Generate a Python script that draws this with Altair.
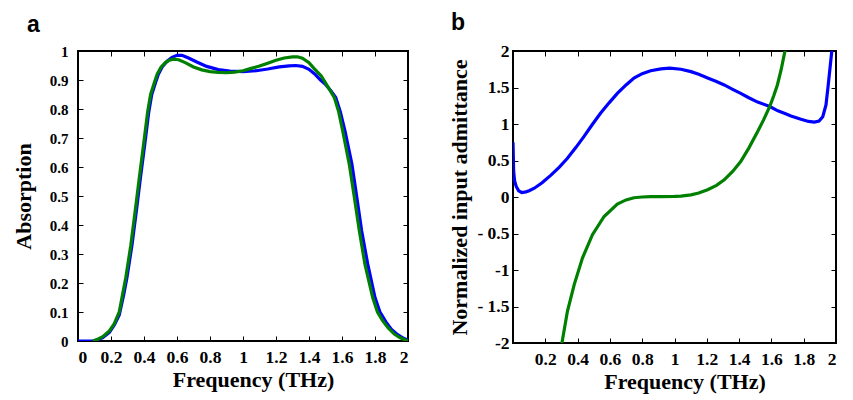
import altair as alt
import pandas as pd

# ---------------- Panel a: absorption ----------------
circuit_f = [0.0, 0.05, 0.09, 0.12, 0.15, 0.19, 0.22, 0.25, 0.277, 0.297, 0.327, 0.354,
             0.379, 0.405, 0.429, 0.447, 0.469, 0.487, 0.51, 0.54, 0.57, 0.60, 0.63, 0.67,
             0.72, 0.78, 0.85, 0.92, 1.00, 1.08, 1.15, 1.22, 1.28, 1.32, 1.36, 1.40, 1.44,
             1.47, 1.50, 1.53, 1.562, 1.59, 1.618, 1.66, 1.69, 1.719, 1.756, 1.80, 1.83,
             1.867, 1.90, 1.937, 1.97, 2.0]
circuit_a = [0.0, 0.0, 0.0, 0.004, 0.012, 0.03, 0.055, 0.09, 0.16, 0.22, 0.33, 0.45,
             0.565, 0.68, 0.79, 0.85, 0.89, 0.92, 0.945, 0.965, 0.978, 0.985, 0.985, 0.976,
             0.962, 0.947, 0.936, 0.931, 0.929, 0.932, 0.938, 0.945, 0.949, 0.950, 0.947,
             0.937, 0.918, 0.90, 0.885, 0.865, 0.84, 0.79, 0.725, 0.61, 0.495, 0.38, 0.265,
             0.15, 0.10, 0.065, 0.04, 0.022, 0.01, 0.003]

hfss_f = [0.09, 0.12, 0.15, 0.19, 0.22, 0.25, 0.27, 0.29, 0.32, 0.347, 0.372, 0.398,
          0.422, 0.44, 0.462, 0.48, 0.503, 0.53, 0.553, 0.58, 0.61, 0.65, 0.70, 0.75,
          0.80, 0.85, 0.90, 0.95, 1.00, 1.05, 1.10, 1.15, 1.20, 1.25, 1.30, 1.33, 1.36,
          1.40, 1.43, 1.473, 1.50, 1.553, 1.58, 1.604, 1.644, 1.675, 1.705, 1.739, 1.786,
          1.815, 1.846, 1.88, 1.917, 1.95, 1.978, 2.0]
hfss_a = [0.0, 0.006, 0.015, 0.035, 0.06, 0.10, 0.16, 0.22, 0.33, 0.45, 0.565, 0.68,
          0.79, 0.85, 0.89, 0.92, 0.944, 0.96, 0.968, 0.972, 0.97, 0.96, 0.945, 0.935,
          0.929, 0.926, 0.925, 0.927, 0.932, 0.94, 0.948, 0.958, 0.968, 0.976, 0.98, 0.98,
          0.975, 0.96, 0.94, 0.915, 0.89, 0.84, 0.79, 0.725, 0.61, 0.495, 0.38, 0.265,
          0.15, 0.10, 0.07, 0.045, 0.024, 0.012, 0.005, 0.0]

# ---------------- Panel b: normalized input admittance ----------------
re_f = [0.0, 0.004, 0.01, 0.02, 0.035, 0.054, 0.08, 0.10, 0.132, 0.18, 0.235, 0.287,
        0.337, 0.39, 0.44, 0.49, 0.543, 0.595, 0.646, 0.70, 0.749, 0.80, 0.852, 0.916,
        0.97, 1.04, 1.102, 1.15, 1.205, 1.256, 1.308, 1.36, 1.41, 1.46, 1.515, 1.59,
        1.64, 1.68, 1.721, 1.783, 1.83, 1.866, 1.895, 1.918, 1.938, 1.952, 1.965, 1.974,
        1.98]
re_y = [0.75, 0.35, 0.22, 0.145, 0.085, 0.062, 0.07, 0.085, 0.12, 0.195, 0.30, 0.41,
        0.53, 0.68, 0.83, 0.99, 1.15, 1.29, 1.42, 1.535, 1.63, 1.69, 1.73, 1.755,
        1.765, 1.75, 1.717, 1.68, 1.63, 1.585, 1.535, 1.475, 1.42, 1.36, 1.30, 1.24,
        1.18, 1.148, 1.11, 1.065, 1.035, 1.025, 1.04, 1.10, 1.26, 1.535, 1.81, 2.0,
        2.2]

im_f = [0.295, 0.303, 0.337, 0.379, 0.43, 0.492, 0.564, 0.646, 0.70, 0.749, 0.80,
        0.852, 0.916, 1.00, 1.04, 1.102, 1.15, 1.205, 1.26, 1.308, 1.36, 1.41, 1.46,
        1.515, 1.55, 1.59, 1.615, 1.637, 1.66, 1.684, 1.70]
im_y = [-2.1, -2.0, -1.566, -1.20, -0.836, -0.517, -0.267, -0.097, -0.04, -0.01, 0.0,
        0.005, 0.005, 0.008, 0.012, 0.03, 0.055, 0.10, 0.16, 0.235, 0.35, 0.486, 0.67,
        0.896, 1.05, 1.24, 1.39, 1.535, 1.74, 2.0, 2.2]

left_x_ticks = [0, 0.2, 0.4, 0.6, 0.8, 1, 1.2, 1.4, 1.6, 1.8, 2]
right_x_ticks = [0.2, 0.4, 0.6, 0.8, 1, 1.2, 1.4, 1.6, 1.8, 2]
left_y_ticks = [0, 0.1, 0.2, 0.3, 0.4, 0.5, 0.6, 0.7, 0.8, 0.9, 1]
right_y_ticks = [-2, -1.5, -1, -0.5, 0, 0.5, 1, 1.5, 2]

series_a = ["Circuit Model", "HFSS Simulation"]
series_b = ["Re (Y\u1D62\u2099)", "Im (Y\u1D62\u2099)"]
colors = ["#0000ff", "#008000"]

dfa = pd.concat([
    pd.DataFrame({"f": circuit_f, "v": circuit_a, "s": series_a[0]}),
    pd.DataFrame({"f": hfss_f, "v": hfss_a, "s": series_a[1]}),
])
dfb = pd.concat([
    pd.DataFrame({"f": re_f, "v": re_y, "s": series_b[0]}),
    pd.DataFrame({"f": im_f, "v": im_y, "s": series_b[1]}),
])

SERIF = "Liberation Serif, Times New Roman, DejaVu Serif, serif"
TICK = 5


def main_axis(orient, values, title, label_size, label_pad, title_pad, fmt=None,
              label_expr=None, title_x=None):
    kw = dict(orient=orient, values=values, title=title, offset=-TICK, tickSize=TICK,
              tickColor="black", tickWidth=1, domain=False, grid=False,
              labelFont=SERIF, labelFontSize=label_size, labelFontWeight="bold",
              labelColor="black", labelPadding=label_pad,
              titleFont=SERIF, titleFontSize=22, titleFontWeight="bold",
              titleColor="black", titlePadding=title_pad)
    if fmt is not None:
        kw["format"] = fmt
    if label_expr is not None:
        kw["labelExpr"] = label_expr
    if title_x is not None:
        kw["titleX"] = title_x
    return alt.Axis(**kw)


def ghost_axis(orient, values):
    return alt.Axis(orient=orient, values=values, title=None, labels=False,
                    offset=-TICK, tickSize=TICK, tickColor="black", tickWidth=1,
                    domain=False, grid=False)


def panel(df, xdom, ydom, xticks, yticks, series, ytitle, ylab_size, ylab_pad,
          ytitle_pad, yexpr, w, h, lx, ly, row_pad, lab_off, letter, letter_dx):
    xs = alt.Scale(domain=xdom, nice=False, zero=False)
    ys = alt.Scale(domain=ydom, nice=False, zero=False)
    lines = alt.Chart(df).mark_line(strokeWidth=3.2, clip=True).encode(
        x=alt.X("f:Q", scale=xs,
                axis=main_axis("bottom", xticks, "Frequency (THz)", 17.5, 7, 4, fmt="~g",
                               title_x=w / 2 + 10)),
        y=alt.Y("v:Q", scale=ys,
                axis=main_axis("left", yticks, ytitle, ylab_size, ylab_pad, ytitle_pad,
                               fmt="~g", label_expr=yexpr)),
        color=alt.Color("s:N", scale=alt.Scale(domain=series, range=colors), legend=None),
    )
    ghost = alt.Chart(df).mark_point(opacity=0, clip=True).encode(
        x=alt.X("f:Q", scale=xs, axis=ghost_axis("top", xticks)),
        y=alt.Y("v:Q", scale=ys, axis=ghost_axis("right", yticks)),
    )
    return alt.layer(lines, ghost).resolve_axis(
        x="independent", y="independent").properties(
        width=w, height=h,
        title=alt.TitleParams(letter, anchor="start", frame="group", dx=letter_dx,
                              font="Liberation Sans, Arial, sans-serif", fontSize=23,
                              fontWeight="bold", color="black", offset=7),
    )


left = panel(dfa, [0, 2], [0, 1], left_x_ticks, left_y_ticks, series_a, "Absorption",
             15, 10, 14, None, 330, 290, 77, 210, 8, 4, "a", -51)

yexpr_b = ("datum.value == -0.5 ? '- 0.5' : datum.value == -1.5 ? '- 1.5' : "
           "datum.value == -1 ? '-1' : datum.value == -2 ? '-2' : datum.label")
right = panel(dfb, [0, 2], [-2, 2], right_x_ticks, right_y_ticks, series_b,
              "Normalized input admittance", 17.5, 4, 5, yexpr_b, 323, 292, 114, 219, 1, 0,
              "b", -62)

chart = alt.hconcat(left, right, spacing=37).resolve_scale(
    color="independent", x="independent", y="independent"
).properties(
    padding=3,
    background="white",
).configure_view(stroke="black", strokeWidth=2)

chart.save("out.html", embed_options={"renderer": "svg", "actions": False})
